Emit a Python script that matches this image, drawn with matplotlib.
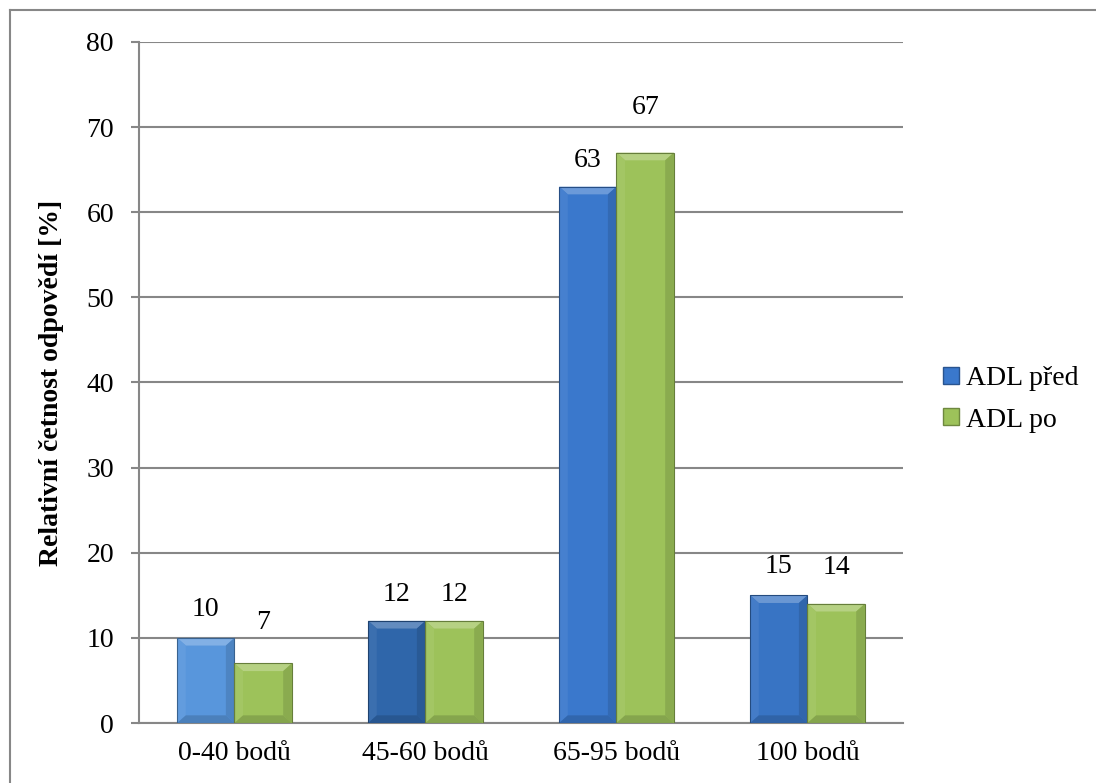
import matplotlib.pyplot as plt
import matplotlib.patches as mpatches
from matplotlib.lines import Line2D
import numpy as np

plt.rcParams["font.family"] = ["Liberation Serif", "DejaVu Serif"]

categories = ["0-40 bodů", "45-60 bodů", "65-95 bodů", "100 bodů"]
series_names = ["ADL před", "ADL po"]
adl_pred = [10, 12, 63, 15]
adl_po = [7, 12, 67, 14]

# label lift above bar top, in pixels
label_lift = [[28, 26, 26, 29], [41, 26, 45, 36]]

blue_shades = ["#5896dc", "#2f66aa", "#3a78cc", "#3874c4"]
green = "#9dc25a"


def lighten(c, f):
    r = np.array(plt.matplotlib.colors.to_rgb(c))
    return tuple(r + (1 - r) * f)


def darken(c, f):
    r = np.array(plt.matplotlib.colors.to_rgb(c))
    return tuple(r * (1 - f))


def bevel_bar(ax, x0, w, h, color, bx, by):
    ax.add_patch(mpatches.Rectangle((x0, 0), w, h, facecolor=color,
                                    edgecolor="none", zorder=3))
    x1 = x0 + w
    bx = min(bx, w / 3)
    by = min(by, h / 3)
    top = [(x0, h), (x1, h), (x1 - bx, h - by), (x0 + bx, h - by)]
    left = [(x0, 0), (x0, h), (x0 + bx, h - by), (x0 + bx, by)]
    right = [(x1, 0), (x1, h), (x1 - bx, h - by), (x1 - bx, by)]
    bottom = [(x0, 0), (x1, 0), (x1 - bx, by), (x0 + bx, by)]
    for pts, col in [(top, lighten(color, 0.25)), (left, lighten(color, 0.06)),
                     (right, darken(color, 0.12)), (bottom, darken(color, 0.15))]:
        ax.add_patch(mpatches.Polygon(pts, closed=True, facecolor=col,
                                      edgecolor="none", zorder=3))
    ax.add_patch(mpatches.Rectangle((x0, 0), w, h, facecolor="none",
                                    edgecolor=darken(color, 0.35), lw=0.8, zorder=4))


fig = plt.figure(figsize=(10.96, 7.83), dpi=100)
ax = fig.add_axes([0.1268, 0.0766, 0.8239 - 0.1268, 0.9464 - 0.0766])

x = np.arange(len(categories))
bw = 0.3
ax.set_xlim(-0.5, len(categories) - 0.5)
ax.set_ylim(0, 80)
ax.set_yticks(range(0, 81, 10))
ax.yaxis.grid(True, color="#878787", lw=1.5)
ax.set_axisbelow(True)

bx, by = 0.045, 0.9
for i in range(len(categories)):
    bevel_bar(ax, x[i] - bw, bw, adl_pred[i], blue_shades[i], bx, by)
    bevel_bar(ax, x[i], bw, adl_po[i], green, bx, by)
    for k, (vals, xc) in enumerate([(adl_pred, x[i] - bw / 2), (adl_po, x[i] + bw / 2)]):
        ax.annotate(str(vals[i]), (xc, vals[i]), xytext=(0, label_lift[k][i] * 0.72),
                    textcoords="offset points", ha="center", va="center",
                    fontsize=20, zorder=5)

ax.set_xticks(x)
ax.set_xticklabels(categories, fontsize=20)
ax.tick_params(axis="x", length=0, pad=13)
ax.tick_params(axis="y", labelsize=20, length=6, width=1.5, color="#878787", pad=12)
for s in ["top", "right"]:
    ax.spines[s].set_visible(False)
for s in ["left", "bottom"]:
    ax.spines[s].set_color("#878787")
    ax.spines[s].set_linewidth(1.5)
ax.set_ylabel("Relativní četnost odpovědí [%]", fontsize=20, fontweight="bold",
              labelpad=16)

handles = [mpatches.Patch(facecolor=blue_shades[2], edgecolor=darken(blue_shades[2], 0.3)),
           mpatches.Patch(facecolor=green, edgecolor=darken(green, 0.3))]
fig.legend(handles, series_names, loc="center left", bbox_to_anchor=(0.838, 0.49),
           frameon=False, fontsize=20, handlelength=0.55, handleheight=0.55,
           handletextpad=0.25, labelspacing=0.6)

# outer chart border
fig.add_artist(Line2D([0.0095, 1.0], [0.987, 0.987], color="#878787", lw=1.5,
                      transform=fig.transFigure))
fig.add_artist(Line2D([0.0095, 0.0095], [0.0, 0.987], color="#878787", lw=1.5,
                      transform=fig.transFigure))

fig.savefig("out.png", dpi=100)
